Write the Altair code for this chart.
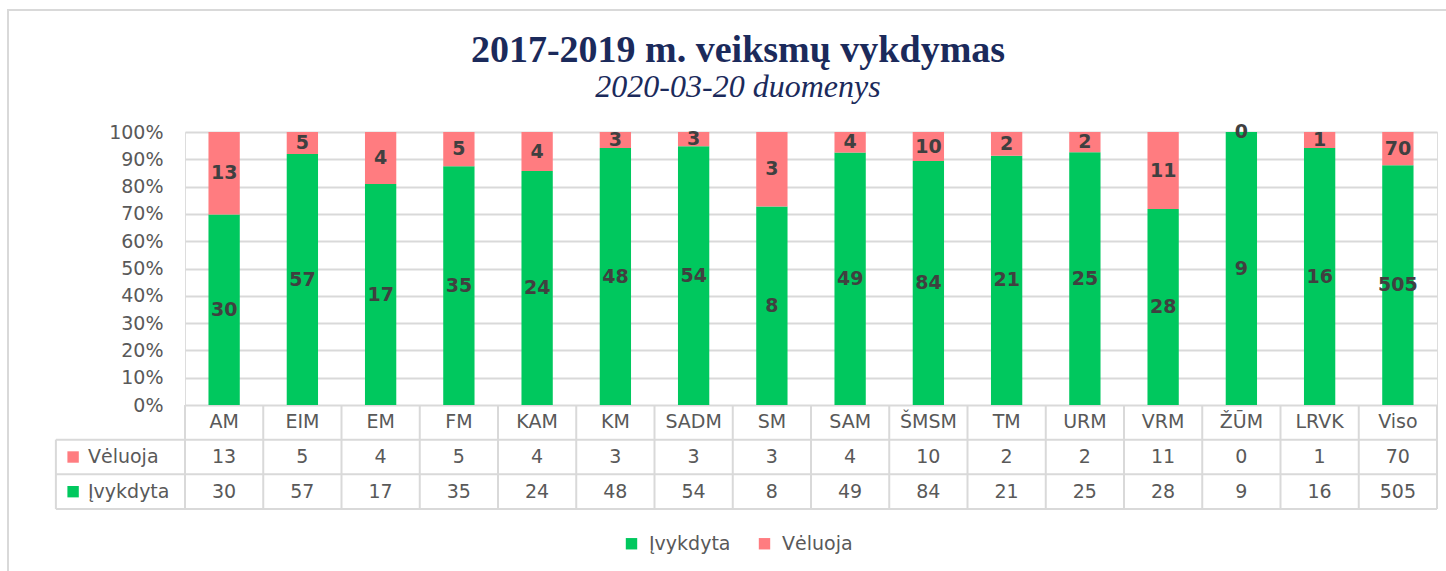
import altair as alt
import pandas as pd

# ---- data ----
categories = ["AM", "EIM", "EM", "FM", "KAM", "KM", "SADM", "SM", "SAM",
              "ŠMSM", "TM", "URM", "VRM", "ŽŪM", "LRVK", "Viso"]
veluoja = [13, 5, 4, 5, 4, 3, 3, 3, 4, 10, 2, 2, 11, 0, 1, 70]
ivykdyta = [30, 57, 17, 35, 24, 48, 54, 8, 49, 84, 21, 25, 28, 9, 16, 505]
series = ["Įvykdyta", "Vėluoja"]
colors = ["#00C85E", "#FF7C80"]
y_ticks = [0, 0.1, 0.2, 0.3, 0.4, 0.5, 0.6, 0.7, 0.8, 0.9, 1.0]
title_text = "2017-2019 m. veiksmų vykdymas"
subtitle_text = "2020-03-20 duomenys"

# ---- layout constants ----
N = len(categories)
ROW = 0.127          # table row height in y-units
HX = -1.65           # left edge of the table's header column (x-units)
GRID = "#D9D9D9"
TXT = "#595959"
LBL = "#404040"
NAVY = "#1B2A5B"
FONT = "DejaVu Sans"

# ---- bar segments ----
rows = []
for i, (c, v, d) in enumerate(zip(categories, veluoja, ivykdyta)):
    tot = v + d
    rows.append(dict(cat=c, idx=i, series=series[0], value=d, y0=0.0, y1=d / tot))
    rows.append(dict(cat=c, idx=i, series=series[1], value=v, y0=d / tot, y1=1.0))
bars = pd.DataFrame(rows)
bars["x0"] = bars["idx"] + 0.3
bars["x1"] = bars["idx"] + 0.7
bars["xm"] = bars["idx"] + 0.5
bars["ym"] = (bars["y0"] + bars["y1"]) / 2

# ---- table cells ----
cells = []
for i, (c, v, d) in enumerate(zip(categories, veluoja, ivykdyta)):
    cells.append(dict(xm=i + 0.5, ym=-0.5 * ROW, text=c))
    cells.append(dict(xm=i + 0.5, ym=-1.5 * ROW, text=str(v)))
    cells.append(dict(xm=i + 0.5, ym=-2.5 * ROW, text=str(d)))
cells = pd.DataFrame(cells)

heads = pd.DataFrame(dict(series=[series[1], series[0]],
                          ym=[-1.5 * ROW, -2.5 * ROW],
                          xs=[HX + 0.22] * 2, xt=[HX + 0.41] * 2))
lines = []
for k in range(N + 1):
    lines.append(dict(xa=k, xb=k, ya=0.0, yb=-3 * ROW))
for r in (1, 2, 3):
    lines.append(dict(xa=HX, xb=N, ya=-r * ROW, yb=-r * ROW))
lines.append(dict(xa=HX, xb=HX, ya=-ROW, yb=-3 * ROW))
lines = pd.DataFrame(lines)

xs = alt.Scale(domain=[0, N], nice=False, zero=False)
ys = alt.Scale(domain=[0, 1], nice=False, zero=False)
yaxis = alt.Axis(values=y_ticks, format=".0%", title=None, grid=True,
                 gridColor=GRID, gridWidth=2, domain=False, ticks=False,
                 labelFont=FONT, labelFontSize=19, labelColor=TXT,
                 labelPadding=22)
cscale = alt.Scale(domain=series, range=colors)

bar = alt.Chart(bars).mark_rect().encode(
    x=alt.X("x0:Q", scale=xs, axis=None),
    x2="x1:Q",
    y=alt.Y("y0:Q", scale=ys, axis=yaxis),
    y2="y1:Q",
    color=alt.Color("series:N", scale=cscale, legend=alt.Legend(
        title=None, orient="none", legendX=437, legendY=402,
        direction="horizontal", symbolType="square", symbolSize=130,
        symbolStrokeWidth=0, labelFont=FONT, labelFontSize=19,
        labelColor=TXT, labelOffset=8, columnPadding=24)),
)

bar_lbl = alt.Chart(bars).mark_text(
    font=FONT, fontSize=19, fontWeight="bold", color=LBL, baseline="middle"
).encode(
    x=alt.X("xm:Q", scale=xs, axis=None),
    y=alt.Y("ym:Q", scale=ys, axis=yaxis),
    text="value:Q",
)

table_txt = alt.Chart(cells).mark_text(
    font=FONT, fontSize=19, color=TXT, baseline="middle"
).encode(
    x=alt.X("xm:Q", scale=xs, axis=None),
    y=alt.Y("ym:Q", scale=ys, axis=yaxis),
    text="text:N",
)

rules = alt.Chart(lines).mark_rule(color=GRID, strokeWidth=2).encode(
    x=alt.X("xa:Q", scale=xs, axis=None),
    x2="xb:Q",
    y=alt.Y("ya:Q", scale=ys, axis=yaxis),
    y2="yb:Q",
)

head_sq = alt.Chart(heads).mark_square(size=130, opacity=1).encode(
    x=alt.X("xs:Q", scale=xs, axis=None),
    y=alt.Y("ym:Q", scale=ys, axis=yaxis),
    fill=alt.Fill("series:N", scale=cscale, legend=None),
)
head_txt = alt.Chart(heads).mark_text(
    font=FONT, fontSize=19, color=TXT, align="left", baseline="middle"
).encode(
    x=alt.X("xt:Q", scale=xs, axis=None),
    y=alt.Y("ym:Q", scale=ys, axis=yaxis),
    text="series:N",
)

one = pd.DataFrame(dict(k=[0]))
frame = alt.Chart(one).mark_rect(
    fillOpacity=0, stroke=GRID, strokeWidth=2
).encode(
    x=alt.value(-177), x2=alt.value(1275),
    y=alt.value(-122), y2=alt.value(450),
)
title_mark = alt.Chart(one).mark_text(
    font="Liberation Serif", fontSize=38, fontWeight="bold", color=NAVY,
    align="center", baseline="alphabetic"
).encode(x=alt.value(553), y=alt.value(-70), text=alt.value(title_text))
subtitle_mark = alt.Chart(one).mark_text(
    font="Liberation Serif", fontSize=32, fontStyle="italic", color=NAVY,
    align="center", baseline="alphabetic"
).encode(x=alt.value(553), y=alt.value(-35), text=alt.value(subtitle_text))

chart = alt.layer(
    frame, title_mark, subtitle_mark, bar, rules, table_txt,
    head_sq, head_txt, bar_lbl
).properties(
    width=1252, height=273,
    autosize=alt.AutoSizeParams(type="none"),
    padding={"left": 185, "top": 132, "right": 9, "bottom": 166},
).configure_view(stroke=None).configure(background="white")

chart.save("out.html", embed_options={"renderer": "svg", "actions": False})
